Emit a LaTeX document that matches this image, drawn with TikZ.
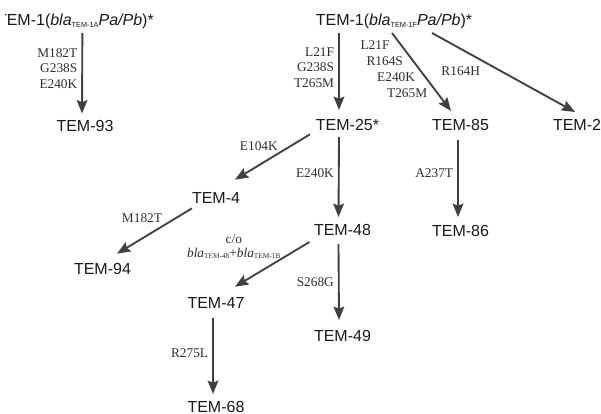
\documentclass[tikz,border=0pt]{standalone}
\usepackage{fontspec}
\setmainfont{Liberation Serif}
\setsansfont{Liberation Sans}
\usetikzlibrary{calc,arrows.meta}
\definecolor{arrgray}{HTML}{404040}
\definecolor{mutgray}{HTML}{2E2E2E}
\newcommand{\lowtag}[1]{\raisebox{-1pt}{\fontsize{5.5}{6}\selectfont #1}}

\begin{document}
\begin{tikzpicture}[x=0.75pt,y=-0.75pt,
  tem/.style={font=\sffamily\fontsize{12}{14}\selectfont, text=black!90, text height=8.6pt, text depth=0pt, inner xsep=0pt, inner ysep=4.5pt},
  mut/.style={font=\fontsize{10}{11.6}\selectfont, text=mutgray, align=right, inner xsep=3pt, inner ysep=1pt},
  arr/.style={draw=arrgray, line width=1.4pt, -{Stealth[length=10pt,width=8pt,inset=1.5pt]}}]

\useasboundingbox (0,0) rectangle (601,414);

% Parent genes (left one cut at the edge as in the source)
\begin{scope}
\clip (5.5,0) rectangle (601,414);
\node[tem, anchor=east] (tA) at (154,20) {TEM-1(\textit{bla}\lowtag{TEM-1A}\textit{Pa/Pb})*};
\end{scope}
\node[tem] (tF) at (394,20) {TEM-1(\textit{bla}\lowtag{TEM-1F}\textit{Pa/Pb})*};

% Variants
\node[tem] (t93) at (85,125.5) {TEM-93};
\node[tem] (t25) at (347.5,125) {TEM-25*};
\node[tem] (t85) at (460.5,125) {TEM-85};
\node[tem] (t2) at (577,125) {TEM-2};
\node[tem] (t4) at (216,198) {TEM-4};
\node[tem] (t48) at (342.5,230) {TEM-48};
\node[tem] (t86) at (460.5,231) {TEM-86};
\node[tem] (t94) at (102.5,269) {TEM-94};
\node[tem] (t47) at (216,302.5) {TEM-47};
\node[tem] (t49) at (342.5,336) {TEM-49};
\node[tem] (t68) at (216,406.5) {TEM-68};

% Arrows with mutations
\draw[arr] ($(tA.south)+(7,1)$) -- node[mut, left, pos=.44] {M182T\\G238S\\E240K} ($(t93.north)+(-3,0)$);
\draw[arr] ($(tF.south)+(-55,1)$) -- node[mut, left, pos=.45] {L21F\\G238S\\T265M} ($(t25.north)+(-8.5,-3)$);
\draw[arr] ($(tF.south)+(-2,1)$) --
  node[mut, anchor=east, pos=.154, xshift=-5pt] {L21F}
  node[mut, anchor=east, pos=.359, xshift=-4pt] {R164S}
  node[mut, anchor=east, pos=.564, xshift=-4pt] {E240K}
  node[mut, anchor=east, pos=.769, xshift=-4pt] {T265M}
  ($(t85.north)+(-9.5,-2)$);
\draw[arr] ($(tF.south)+(38,1)$) -- node[mut, anchor=north east, pos=.37, yshift=-1.5pt] {R164H} ($(t2.north)+(-2,-1)$);
\draw[arr] ($(t25.south)+(-37.5,-2.7)$) -- node[mut, anchor=south east, pos=.4, inner sep=1pt] {E104K} ($(t4.north)+(19,-6.3)$);
\draw[arr] ($(t25.south)+(-8.5,0)$) -- node[mut, left, pos=.45] {E240K} ($(t48.north)+(-4,-1)$);
\draw[arr] ($(t85.south)+(-2.5,3)$) -- node[mut, left, pos=.43] {A237T} ($(t86.north)+(-2.5,-2)$);
\draw[arr] ($(t4.south)+(-24,-1.7)$) -- node[mut, anchor=south east, pos=.37, inner sep=1pt] {M182T} ($(t94.north)+(14.5,-3.3)$);
\draw[arr] ($(t48.south)+(-33,0)$) -- node[mut, align=center, anchor=east, pos=.1, xshift=-12.5pt, font=\fontsize{10}{10.5}\selectfont] {c/o\\\textit{bla}\lowtag{TEM-48}+\textit{bla}\lowtag{TEM-1B}} ($(t47.north)+(19,-3.8)$);
\draw[arr] ($(t48.south)+(-4,2)$) -- node[mut, left, pos=.5] {S268G} ($(t49.north)+(-3.5,-4)$);
\draw[arr] ($(t47.south)+(-3,3)$) -- node[mut, left, pos=.47] {R275L} ($(t68.north)+(-3,-0.5)$);

\end{tikzpicture}
\end{document}
